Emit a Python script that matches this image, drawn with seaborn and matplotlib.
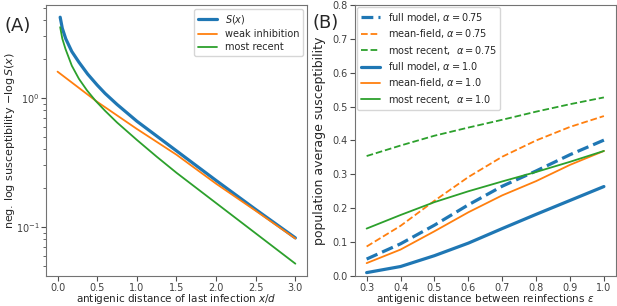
import numpy as np
import matplotlib
matplotlib.use("Agg")
import matplotlib.pyplot as plt
import seaborn as sns

# panel A: -log S(x) vs antigenic distance (log10 of the values)
x_s = [0.033, 0.06, 0.104, 0.18, 0.27, 0.38, 0.5, 0.6, 0.75, 1.0, 1.25, 1.5, 2.0, 2.5, 3.0]
logS_full = [0.626, 0.54, 0.458, 0.36, 0.277, 0.185, 0.10, 0.035, -0.05, -0.18, -0.295, -0.41, -0.64, -0.865, -1.085]
x_w = [0.0, 0.5, 1.0, 1.5, 2.0, 2.5, 3.0]
logS_weak = [0.204, -0.03, -0.24, -0.44, -0.665, -0.875, -1.09]
x_r = [0.033, 0.06, 0.1, 0.18, 0.27, 0.37, 0.478, 0.6, 0.75, 1.0, 1.25, 1.5, 2.0, 2.5, 3.0]
logS_recent = [0.549, 0.46, 0.38, 0.25, 0.148, 0.06, -0.021, -0.10, -0.19, -0.325, -0.455, -0.58, -0.815, -1.05, -1.285]

# panel B: population average susceptibility vs epsilon
eps = [0.3, 0.4, 0.5, 0.6, 0.7, 0.8, 0.9, 1.0]
full_075 = [0.050, 0.095, 0.150, 0.210, 0.265, 0.310, 0.358, 0.401]
mf_075 = [0.087, 0.148, 0.222, 0.292, 0.352, 0.400, 0.440, 0.472]
recent_075 = [0.354, 0.385, 0.414, 0.438, 0.461, 0.485, 0.507, 0.527]
full_10 = [0.010, 0.028, 0.060, 0.097, 0.140, 0.182, 0.223, 0.264]
mf_10 = [0.038, 0.078, 0.132, 0.188, 0.238, 0.280, 0.328, 0.369]
recent_10 = [0.140, 0.180, 0.218, 0.250, 0.279, 0.307, 0.337, 0.369]

sns.set_style("ticks")
plt.rcParams['font.family'] = ['DejaVu Sans']
plt.rcParams['mathtext.fontset'] = 'dejavusans'

blue, orange, green = '#1f77b4', '#ff7f0e', '#2ca02c'

fig = plt.figure(figsize=(6.17, 3.06), dpi=100)
axA = fig.add_axes([0.074, 0.098, 0.424, 0.886])
axB = fig.add_axes([0.575, 0.098, 0.423, 0.886])

sns.lineplot(x=x_s, y=10**np.array(logS_full), ax=axA, color=blue, lw=2.3, label='$S(x)$')
sns.lineplot(x=x_w, y=10**np.array(logS_weak), ax=axA, color=orange, lw=1.3, label='weak inhibition')
sns.lineplot(x=x_r, y=10**np.array(logS_recent), ax=axA, color=green, lw=1.3, label='most recent')
axA.set_yscale('log')
axA.set_xticks([0, 0.5, 1, 1.5, 2, 2.5, 3])
axA.set_xlabel('antigenic distance of last infection $x/d$', fontsize=7.5)
axA.set_ylabel(r'neg. log susceptibility $-\log S(x)$', fontsize=8)
axA.legend(loc='upper right', fontsize=7, handlelength=2.0, labelspacing=0.35,
           borderaxespad=0.4)

sns.lineplot(x=eps, y=full_075, ax=axB, color=blue, lw=2.3, linestyle='--', label=r'full model, $\alpha=0.75$')
sns.lineplot(x=eps, y=mf_075, ax=axB, color=orange, lw=1.3, linestyle='--', label=r'mean-field, $\alpha=0.75$')
sns.lineplot(x=eps, y=recent_075, ax=axB, color=green, lw=1.3, linestyle='--', label=r'most recent,  $\alpha=0.75$')
sns.lineplot(x=eps, y=full_10, ax=axB, color=blue, lw=2.3, label=r'full model, $\alpha=1.0$')
sns.lineplot(x=eps, y=mf_10, ax=axB, color=orange, lw=1.3, label=r'mean-field, $\alpha=1.0$')
sns.lineplot(x=eps, y=recent_10, ax=axB, color=green, lw=1.3, label=r'most recent,  $\alpha=1.0$')
axB.set_ylim(0, 0.8)
axB.set_xlabel(r'antigenic distance between reinfections $\varepsilon$', fontsize=7.5)
axB.set_ylabel('population average susceptibility', fontsize=9)
axB.legend(loc='upper left', fontsize=7, handlelength=2.0, labelspacing=0.35,
           borderaxespad=0.2)

for ax in (axA, axB):
    ax.tick_params(labelsize=7, pad=1.5, colors='0.3', labelcolor='0.25')
    ax.tick_params(which='minor', colors='0.3')
    for sp in ax.spines.values():
        sp.set_color('0.45')
    ax.xaxis.set_label_coords(0.5, -0.059)
axA.tick_params(axis='y', pad=1)

axA.yaxis.set_label_coords(-0.11, 0.5)
axB.yaxis.set_label_coords(-0.112, 0.5)

fig.text(0.008, 0.915, '(A)', fontsize=13, va='center')
fig.text(0.506, 0.925, '(B)', fontsize=13, va='center')

fig.savefig('out.png', dpi=100)
